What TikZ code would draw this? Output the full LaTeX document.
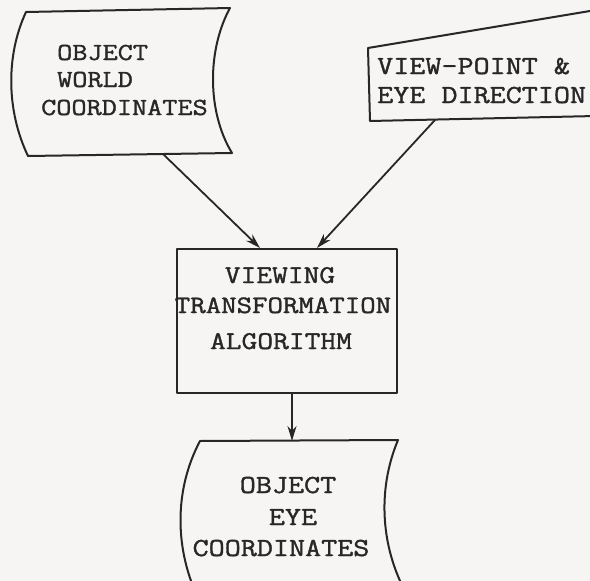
\documentclass[tikz,border=0pt]{standalone}
\usepackage{fontspec}
\setmonofont{Latin Modern Mono}[FakeStretch=1.2, FakeBold=1.4]
\usetikzlibrary{arrows.meta,calc}

\definecolor{paper}{RGB}{247,244,244}
\definecolor{ink}{RGB}{40,38,38}

\tikzset{
  outline/.style={draw=ink, line width=2pt, line join=round},
  label/.style={inner sep=0pt, text=ink, font=\ttfamily\fontsize{#1}{#1}\selectfont},
  flow/.style={draw=ink, line width=1.8pt, -{Stealth[length=15pt,width=9pt]}},
}

\begin{document}
\begin{tikzpicture}[x=1pt,y=-1pt]
  % paper and page frame
  \fill[paper] (0,0) rectangle (590,581);
  \useasboundingbox (0,0) rectangle (590,581);
  \clip (0,0) rectangle (590,581);

  % stored-data shape: object world coordinates
  \draw[outline] (26,12) -- (230,8)
    .. controls (207,50) and (207,112) .. (232,153)
    -- (28,156)
    .. controls (6,110) and (6,55) .. cycle;
  \node[label=24.5, anchor=base west] (ow1) at (57,60) {OBJECT};
  \node[label=24.5, anchor=base west] (ow2) at (57,87) {WORLD};
  \node[label=24.5, anchor=base west] (ow3) at (41,115) {COORDINATES};
  \coordinate (owout) at (163,154);

  % manual-input shape: view-point and eye direction
  \draw[outline] (368,48) -- (596,10) -- (596,116) -- (370,121) -- cycle;
  \node[label=26, anchor=base west] (vp1) at (377,74) {VIEW-POINT \&};
  \node[label=26, anchor=base west] (vp2) at (377,103) {EYE DIRECTION};
  \coordinate (vpout) at (435,120);

  % process box: viewing transformation algorithm
  \node[outline, rectangle, minimum width=220pt, minimum height=144pt, inner sep=0pt] (vt) at (287,321) {};
  \node[label=25.5, anchor=base] (vt1) at (280,283) {VIEWING};
  \node[label=25, anchor=base] (vt2) at (283,313) {TRANSFORMATION};
  \node[label=25.5, anchor=base] (vt3) at (281,349) {ALGORITHM};

  % stored-data shape: object eye coordinates
  \draw[outline] (200,441) -- (398,440)
    .. controls (377,490) and (380,550) .. (410,600)
    -- (200,602)
    .. controls (174,550) and (174,490) .. cycle;
  \node[label=26, anchor=base] (oe1) at (288,493) {OBJECT};
  \node[label=26, anchor=base] (oe2) at (293,525) {EYE};
  \node[label=26, anchor=base] (oe3) at (281,556) {COORDINATES};
  \coordinate (oein) at (292,441);

  % data flow
  \draw[flow] (owout) -- ($(vt.north)+(-27,0)$);
  \draw[flow] (vpout) -- ($(vt.north)+(30,0)$);
  \draw[flow] (vt.south -| oein) -- (oein);
\end{tikzpicture}
\end{document}
